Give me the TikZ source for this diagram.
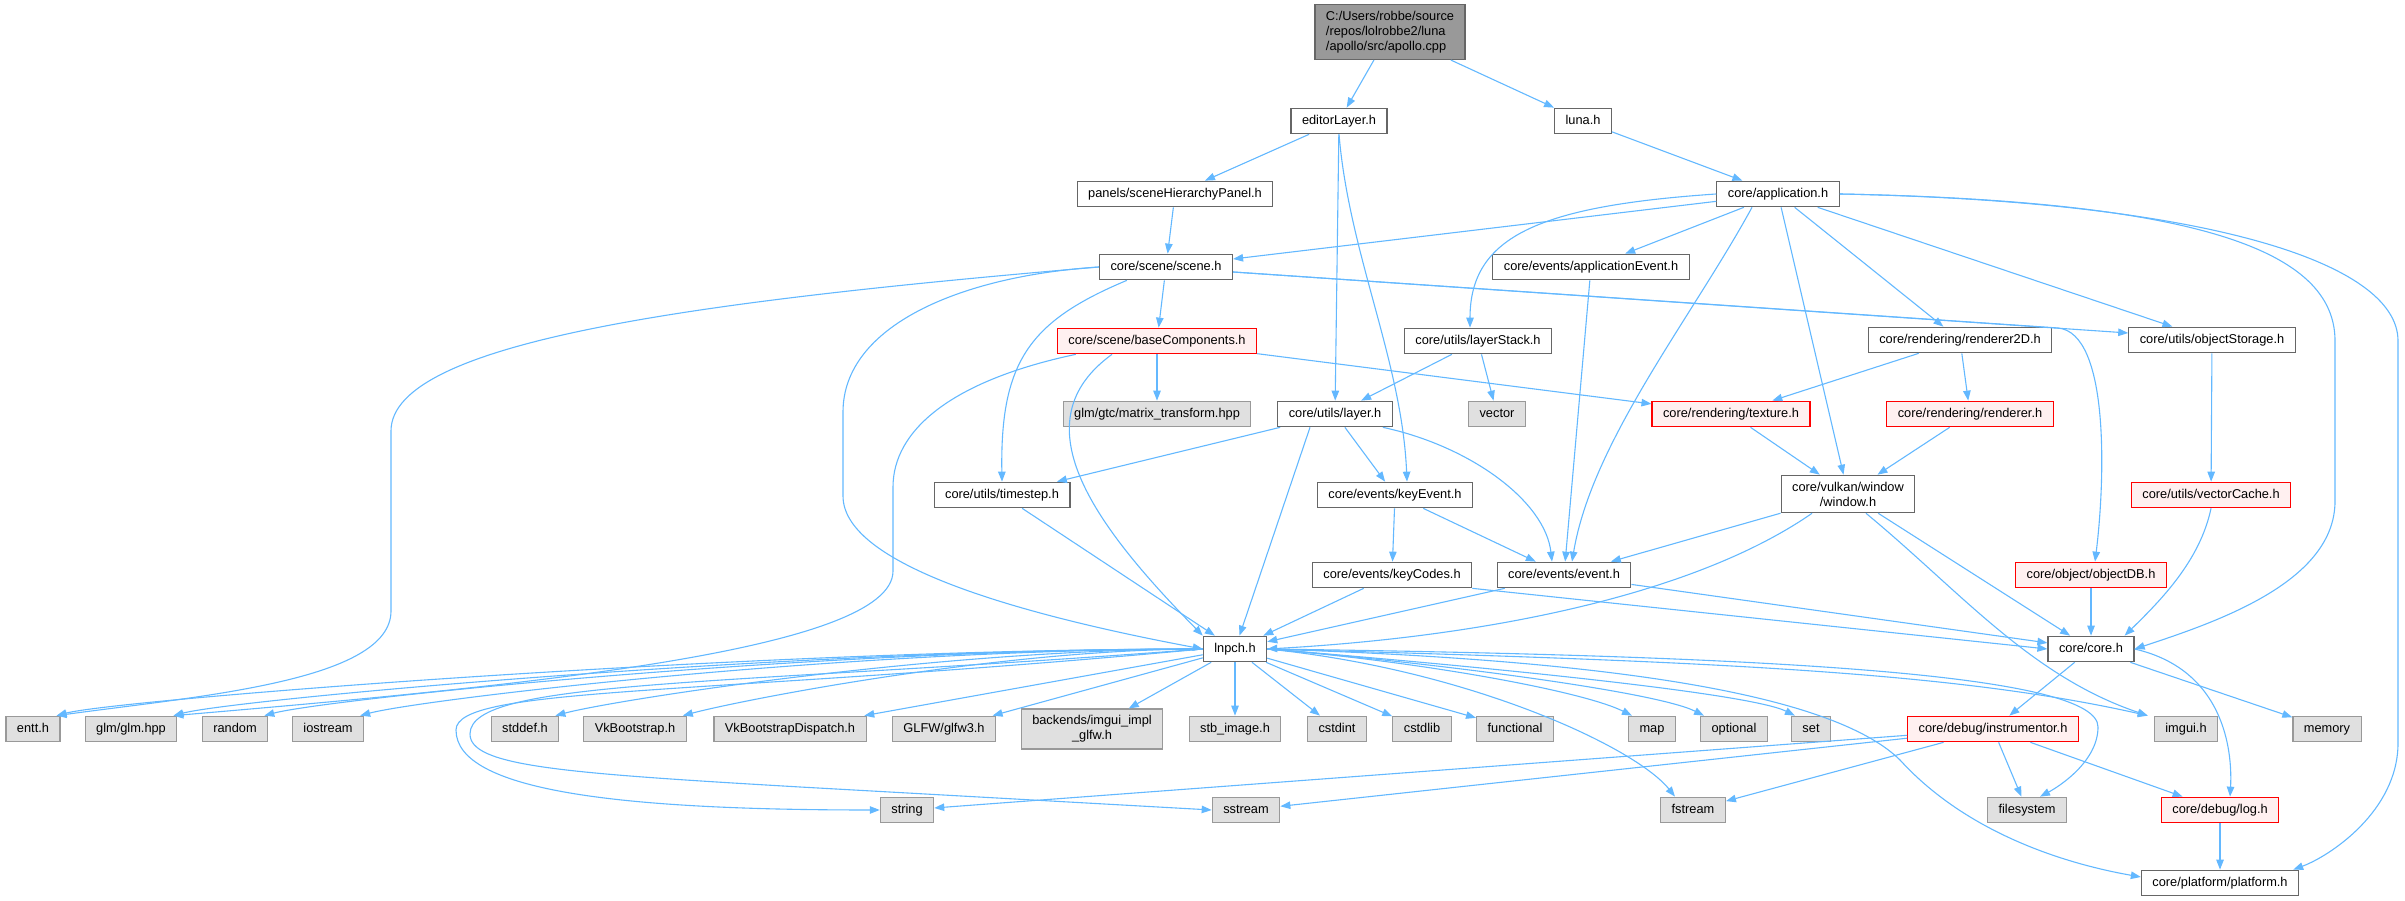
\documentclass[tikz,border=0pt]{standalone}
\usepackage{fontspec}
\setmainfont{Liberation Sans}
\usetikzlibrary{arrows.meta}
\tikzset{% change default arrow tips
    >={Triangle[length=10pt,width=7.5pt]}
}
\definecolor{inclblue}{HTML}{63B8FF}
\definecolor{hdrgrey}{HTML}{666666}
\definecolor{sysgrey}{HTML}{999999}
\definecolor{sysfill}{HTML}{E0E0E0}
\definecolor{rootfill}{HTML}{999999}
\definecolor{truncfill}{HTML}{FFF0F0}

\begin{document}
\begin{tikzpicture}[x=1pt,y=1pt]
		\newcommand{\rowsys}{172} % row of the system headers
		\newcommand{\rowlow}{91}  % string, sstream, ...
		
		% set the styles of the boxes and of the include arrows
		\tikzset{
			box/.style={line width=1.2pt, inner xsep=11pt, inner ysep=4pt, minimum height=25.5pt, font=\fontsize{12.8}{15}\selectfont, align=center},
			oneline/.style={text height=9.2pt, text depth=3pt},
			hdr/.style={box, oneline, draw=hdrgrey, fill=white},
			sys/.style={box, oneline, draw=sysgrey, fill=sysfill},
			trunc/.style={box, oneline, draw=red, fill=truncfill},
			multi/.style={box, inner ysep=6.5pt},
			incl/.style={->, draw=inclblue, line width=1.1pt}
		}
		\useasboundingbox (0,0) rectangle (2405,901);
		
		% included file
		\node[multi, draw=hdrgrey, fill=rootfill, align=left] (root) at (1390,869) {C:/Users/robbe/source\\/repos/lolrobbe2/luna\\/apollo/src/apollo.cpp};
		
		% project headers
		\node[hdr] (editor) at (1339,780) {editorLayer.h};
		\node[hdr] (luna) at (1583,780) {luna.h};
		\node[hdr] (shp) at (1175,707) {panels/sceneHierarchyPanel.h};
		\node[hdr] (app) at (1778,707) {core/application.h};
		\node[hdr] (scene) at (1166,634) {core/scene/scene.h};
		\node[hdr] (appevt) at (1591,634) {core/events/applicationEvent.h};
		\node[trunc] (basecomp) at (1157,560) {core/scene/baseComponents.h};
		\node[hdr] (layerstack) at (1478,560) {core/utils/layerStack.h};
		\node[hdr] (r2d) at (1960,561) {core/rendering/renderer2D.h};
		\node[hdr] (objstore) at (2212,561) {core/utils/objectStorage.h};
		\node[sys] (matrix) at (1157,487) {glm/gtc/matrix\_transform.hpp};
		\node[hdr] (layer) at (1335,487) {core/utils/layer.h};
		\node[sys] (vector) at (1497,487) {vector};
		\node[trunc] (texture) at (1731,487) {core/rendering/texture.h};
		\node[trunc] (renderer) at (1970,487) {core/rendering/renderer.h};
		\node[hdr] (timestep) at (1002,406) {core/utils/timestep.h};
		\node[hdr] (keyevt) at (1395,406) {core/events/keyEvent.h};
		\node[multi, draw=hdrgrey, fill=white] (window) at (1848,407) {core/vulkan/window\\/window.h};
		\node[trunc] (vectorcache) at (2211,406) {core/utils/vectorCache.h};
		\node[hdr] (keycodes) at (1392,326) {core/events/keyCodes.h};
		\node[hdr] (event) at (1564,326) {core/events/event.h};
		\node[trunc] (objectdb) at (2091,326) {core/object/objectDB.h};
		\node[hdr] (lnpch) at (1235,252) {lnpch.h};
		\node[hdr] (core) at (2091,252) {core/core.h};
		
		% system headers
		\node[sys] (entt) at (33,\rowsys) {entt.h};
		\node[sys] (glm) at (131,\rowsys) {glm/glm.hpp};
		\node[sys] (random) at (235,\rowsys) {random};
		\node[sys] (iostream) at (328,\rowsys) {iostream};
		\node[sys] (stddef) at (525,\rowsys) {stddef.h};
		\node[sys] (vkboot) at (635,\rowsys) {VkBootstrap.h};
		\node[sys] (vkdisp) at (790,\rowsys) {VkBootstrapDispatch.h};
		\node[sys] (glfw) at (944,\rowsys) {GLFW/glfw3.h};
		\node[multi, draw=sysgrey, fill=sysfill] (imglfw) at (1092,\rowsys) {backends/imgui\_impl\\\_glfw.h};
		\node[sys] (stb) at (1235,\rowsys) {stb\_image.h};
		\node[sys] (cstdint) at (1337,\rowsys) {cstdint};
		\node[sys] (cstdlib) at (1422,\rowsys) {cstdlib};
		\node[sys] (functional) at (1515,\rowsys) {functional};
		\node[sys] (map) at (1652,\rowsys) {map};
		\node[sys] (optional) at (1734,\rowsys) {optional};
		\node[sys] (set) at (1811,\rowsys) {set};
		\node[trunc] (instr) at (1993,\rowsys) {core/debug/instrumentor.h};
		\node[sys] (imgui) at (2186,\rowsys) {imgui.h};
		\node[sys] (memory) at (2327,\rowsys) {memory};
		\node[sys] (string) at (907,\rowlow) {string};
		\node[sys] (sstream) at (1246,\rowlow) {sstream};
		\node[sys] (fstream) at (1693,\rowlow) {fstream};
		\node[sys] (filesystem) at (2027,\rowlow) {filesystem};
		\node[trunc] (log) at (2220,\rowlow) {core/debug/log.h};
		\node[hdr] (platform) at (2220,18) {core/platform/platform.h};
		
		% top of the tree
		\draw[incl] (root) -- (editor);
		\draw[incl] (root) -- (luna);
		\draw[incl] (editor) -- (shp);
		\draw[incl] (editor) -- (layer);
		\draw[incl] (editor.south) .. controls +(10,-120) and +(-5,120) .. ([xshift=12pt]keyevt.north);
		\draw[incl] (luna) -- (app);
		\draw[incl] (shp) -- (scene);
		
		% application.h
		\draw[incl] (app) -- (scene);
		\draw[incl] (app) -- (appevt);
		\draw[incl] (app.west) .. controls (1540,695) and (1470,665) .. ([xshift=-8pt]layerstack.north);
		\draw[incl] ([xshift=-26pt]app.south) .. controls +(-60,-110) and +(20,120) .. ([xshift=8pt]event.north);
		\draw[incl] (app) -- (window);
		\draw[incl] (app) -- (r2d);
		\draw[incl] (app) -- (objstore);
		\draw[incl] (app.east) .. controls (2200,700) and (2335,650) .. (2335,560) -- (2335,400) .. controls (2335,320) and (2220,280) .. (core.east);
		\draw[incl] (app.east) .. controls (2200,700) and (2398,640) .. (2398,560) -- (2398,158) .. controls (2398,90) and (2330,45) .. ([xshift=-6pt]platform.north east);
		
		% scene.h
		\draw[incl] (scene) -- (basecomp);
		\draw[incl] (scene.west) .. controls (700,600) and (391,560) .. (391,470) -- (391,290) .. controls (391,220) and (200,205) .. ([xshift=-4pt]entt.north east);
		\draw[incl] (scene.west) .. controls (960,625) and (843,575) .. (843,489) -- (843,405) .. controls (843,340) and (1000,290) .. (lnpch.west);
		\draw[incl] ([xshift=28pt]scene.south west) .. controls (1030,580) and (1000,540) .. (timestep.north);
		\draw[incl] ([yshift=-5pt]scene.east) -- ([yshift=7pt]objstore.west);
		\draw[incl] ([yshift=-5pt]scene.east) -- (2058,573) .. controls (2110,568) and (2105,420) .. ([xshift=4pt]objectdb.north);
		
		% baseComponents.h
		\draw[incl] (basecomp) -- (matrix);
		\draw[incl] (basecomp) -- (texture);
		\draw[incl] ([xshift=19pt]basecomp.south west) .. controls (950,520) and (893,470) .. (893,414) -- (893,330) .. controls (893,250) and (520,215) .. ([xshift=-4pt]glm.north east);
		\draw[incl] ([xshift=-45pt]basecomp.south) .. controls (1020,480) and (1090,380) .. (lnpch.north west);
		
		% utils, events and rendering
		\draw[incl] (layerstack) -- (layer);
		\draw[incl] (layerstack) -- (vector);
		\draw[incl] (layer) -- (timestep);
		\draw[incl] ([xshift=-25pt]layer.south) -- (lnpch);
		\draw[incl] (layer) -- (keyevt);
		\draw[incl] ([xshift=-10pt]layer.south east) .. controls (1470,455) and (1545,400) .. ([xshift=-12pt]event.north);
		\draw[incl] (r2d) -- (texture);
		\draw[incl] (r2d) -- (renderer);
		\draw[incl] (objstore) -- (vectorcache);
		\draw[incl] (texture) -- (window);
		\draw[incl] (renderer) -- (window);
		\draw[incl] (appevt) -- (event);
		\draw[incl] (timestep) -- (lnpch);
		\draw[incl] (keyevt) -- (keycodes);
		\draw[incl] (keyevt) -- (event);
		\draw[incl] (window) -- (event);
		\draw[incl] ([xshift=-36pt]window.south) .. controls (1700,310) and (1500,265) .. (lnpch.east);
		\draw[incl] (window) -- (core);
		\draw[incl] ([xshift=18pt]window.south) .. controls (1960,310) and (2030,225) .. ([xshift=-6pt]imgui.north west);
		\draw[incl] (vectorcache.south) .. controls (2200,340) and (2160,300) .. ([xshift=-10pt]core.north east);
		\draw[incl] (keycodes) -- (lnpch);
		\draw[incl] (keycodes.south east) -- (core.west);
		\draw[incl] (event) -- (lnpch);
		\draw[incl] (event) -- (core);
		\draw[incl] (objectdb) -- (core);
		
		% core.h
		\draw[incl] (core) -- (instr);
		\draw[incl] (core) -- (memory);
		\draw[incl] (core.east) .. controls (2230,230) and (2232,140) .. ([xshift=10pt]log.north);
		
		% lnpch.h
		\foreach \leaf/\pull in {entt/450,glm/420,random/400,iostream/360,stddef/260,vkboot/200}
			\draw[incl] (lnpch.west) .. controls +(-\pull,0) and +(60,16) .. ([xshift=-4pt]\leaf.north east);
		\foreach \leaf in {vkdisp,glfw,imglfw,stb,cstdint,cstdlib,functional}
			\draw[incl] (lnpch) -- (\leaf);
		\foreach \leaf in {map,optional,set}
			\draw[incl] (lnpch.east) .. controls +(150,-12) and +(-50,25) .. ([xshift=4pt]\leaf.north west);
		\draw[incl] (lnpch.west) .. controls (700,205) and (456,215) .. (456,171) .. controls (456,110) and (620,91) .. (string.west);
		\draw[incl] (lnpch.west) .. controls (720,215) and (470,222) .. (470,167) .. controls (470,135) and (560,128) .. (800,114) -- (sstream.west);
		\draw[incl] (lnpch.east) .. controls +(200,-20) and +(-40,50) .. ([xshift=-18pt]fstream.north);
		\draw[incl] (lnpch.east) .. controls (1700,240) and (1950,230) .. ([xshift=-6pt]imgui.north west);
		\draw[incl] (lnpch.east) .. controls (1800,245) and (2098,225) .. (2098,174) .. controls (2098,140) and (2060,115) .. ([xshift=13pt]filesystem.north);
		\draw[incl] (lnpch.east) .. controls (1650,240) and (1840,200) .. (1900,141) .. controls (1960,75) and (2050,40) .. ([yshift=6pt]platform.west);
		
		% instrumentor.h and log.h
		\draw[incl] (instr) -- (string);
		\draw[incl] (instr) -- (sstream);
		\draw[incl] (instr) -- (fstream);
		\draw[incl] (instr) -- (filesystem);
		\draw[incl] (instr) -- (log);
		\draw[incl] (log) -- (platform);
\end{tikzpicture}
\end{document}
